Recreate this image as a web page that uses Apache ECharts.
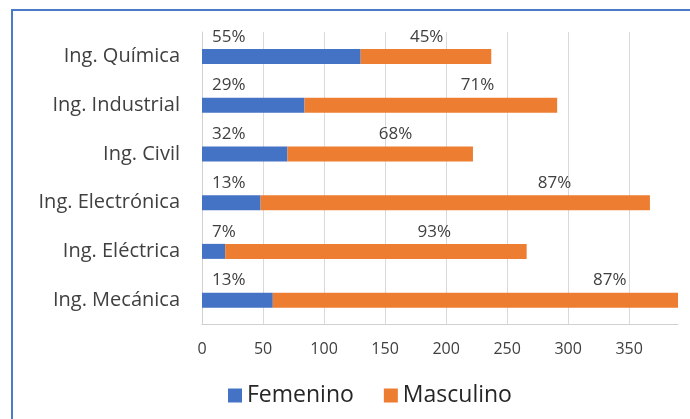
<!DOCTYPE html>
<html>
<head>
    <meta charset="UTF-8">
    <title>Femenino / Masculino por carrera</title>
    <script type="text/javascript" src="https://cdn.jsdelivr.net/npm/echarts@6/dist/echarts.min.js"></script>
    <style type="text/css">
        html, body { margin: 0; padding: 0; background: #fff; }
        #chart { width: 690px; height: 419px; }
    </style>
</head>
<body>
<div id="chart"></div>
<script type="text/javascript">
    // datos
    var carreras = ['Ing. Química', 'Ing. Industrial', 'Ing. Civil', 'Ing. Electrónica', 'Ing. Eléctrica', 'Ing. Mecánica'];
    var femenino = [130, 84, 70, 48, 19, 58];
    var masculino = [107, 207, 152, 319, 247, 388];
    var pctFemenino = ['55%', '29%', '32%', '13%', '7%', '13%'];
    var pctMasculino = ['45%', '71%', '68%', '87%', '93%', '87%'];

    // desplazamiento (px) de las etiquetas de Masculino desde el inicio del segmento
    var desplMasc = [66, 173, 108, 294, 209, 337];

    var fuente = 'Open Sans';
    var texto = '#404040';

    var chart = echarts.init(document.getElementById('chart'));
    chart.setOption({
        animation: false,
        textStyle: {fontFamily: fuente},
        grid: {left: 202, right: 12, top: 32, bottom: 94.5, containLabel: false},
        graphic: [{
            type: 'polyline',
            shape: {points: [[12, 419], [12, 10], [690, 10]]},
            style: {stroke: '#4a7bc6', lineWidth: 2, fill: null}
        }],
        legend: {
            left: 223,
            top: 379,
            icon: 'rect',
            itemWidth: 14,
            itemHeight: 14,
            itemGap: 30,
            textStyle: {fontSize: 23, color: '#262626', fontFamily: fuente},
            data: ['Femenino', 'Masculino']
        },
        xAxis: {
            type: 'value',
            min: 0,
            max: 390,
            interval: 50,
            axisLine: {show: true, lineStyle: {color: '#d0d0d0', width: 1}},
            axisTick: {show: false},
            axisLabel: {fontSize: 16, color: texto, margin: 17, showMaxLabel: false},
            splitLine: {show: true, showMaxLine: false, lineStyle: {color: '#d9d9d9', width: 1}}
        },
        yAxis: {
            type: 'category',
            inverse: true,
            data: carreras,
            axisLine: {show: true, lineStyle: {color: '#d0d0d0', width: 1}},
            axisTick: {show: false},
            axisLabel: {fontSize: 20, color: texto, margin: 22}
        },
        series: [
            {
                name: 'Femenino',
                type: 'bar',
                stack: 'total',
                barWidth: 15,
                itemStyle: {color: '#4472c4'},
                label: {
                    show: true,
                    position: [10, -12],
                    align: 'left',
                    verticalAlign: 'middle',
                    fontSize: 17,
                    color: texto,
                    formatter: function (p) { return pctFemenino[p.dataIndex]; }
                },
                data: femenino
            },
            {
                name: 'Masculino',
                type: 'bar',
                stack: 'total',
                barWidth: 15,
                itemStyle: {color: '#ed7d31'},
                data: masculino.map(function (v, i) {
                    return {
                        value: v,
                        label: {
                            show: true,
                            position: [desplMasc[i], -12],
                            align: 'center',
                            verticalAlign: 'middle',
                            fontSize: 17,
                            color: texto,
                            formatter: pctMasculino[i]
                        }
                    };
                })
            }
        ]
    });
</script>
</body>
</html>
